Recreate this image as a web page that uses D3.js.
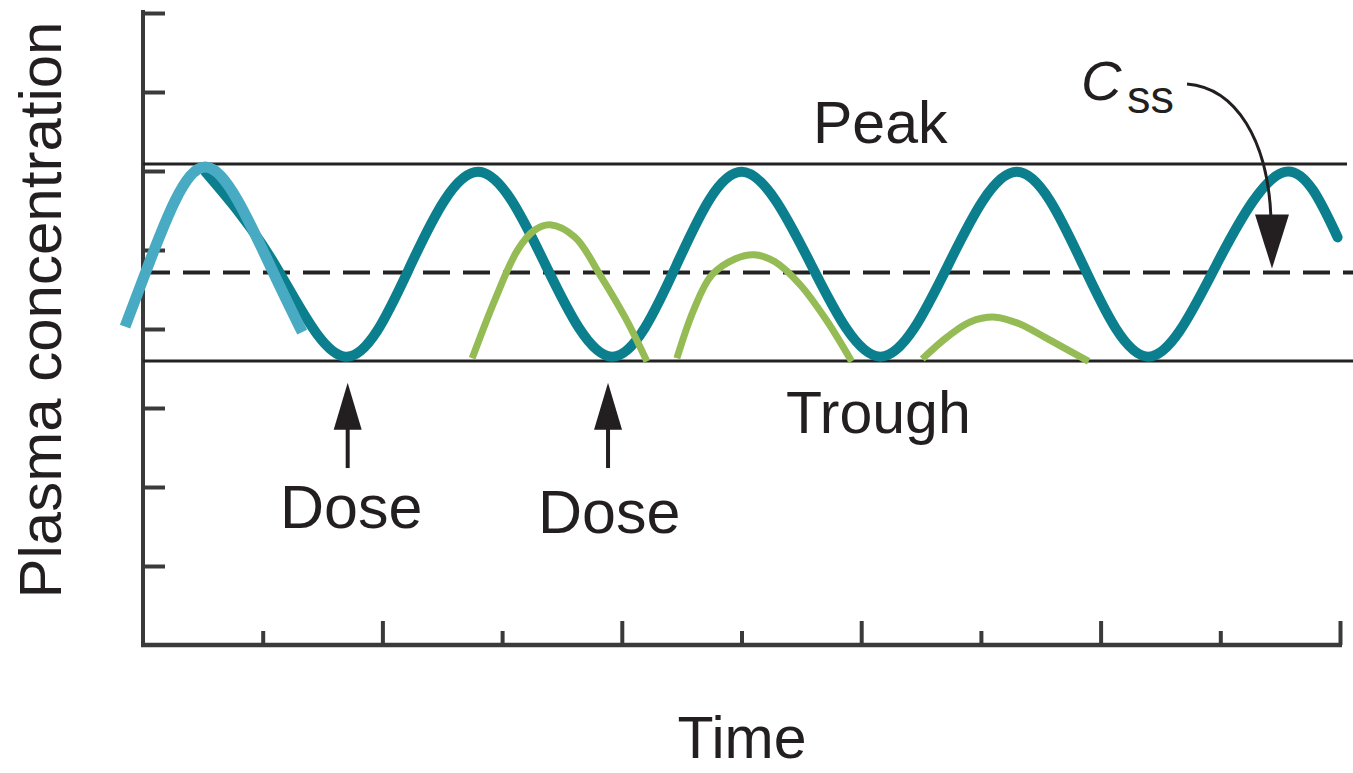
<!DOCTYPE html>
<html>
<head>
<meta charset="utf-8">
<script src="https://cdn.jsdelivr.net/npm/d3@7"></script>
<style>
  html, body { margin: 0; padding: 0; background: #fff; }
  svg { display: block; }
  text { font-family: "Liberation Sans", Arial, sans-serif; fill: #231f20; }
</style>
</head>
<body>
<svg id="chart" width="1353" height="773"></svg>
<script>
// ---------- data (time units = x ticks, concentration units = y ticks) ----------
const xTicksMajor = [2, 4, 6, 8, 10];
const xTicksMinor = [1, 3, 5, 7, 9];
const yTicks = [1, 2, 3, 4, 5, 6, 7, 8];

// steady-state oscillation (teal)
const tealTime = [0.52, 1.10, 1.69, 2.24, 2.80, 3.36, 3.92, 4.46, 5.00, 5.58, 6.16, 6.73, 7.30, 7.85, 8.40, 8.97, 9.54, 9.98];
const tealConc = [5.99, 4.82, 3.65, 4.82, 5.99, 4.82, 3.65, 4.82, 5.99, 4.82, 3.65, 4.82, 5.99, 4.82, 3.65, 4.82, 5.99, 5.16];

// first-dose overlay (light blue)
const blueTime = [-0.15, 0.02, 0.27, 0.52, 0.79, 1.09, 1.33];
const blueConc = [4.03, 4.71, 5.63, 6.05, 5.63, 4.71, 3.96];

// declining doses (green)
const green1Time = [2.75, 2.94, 3.13, 3.27, 3.40, 3.61, 3.82, 4.03, 4.21];
const green1Conc = [3.63, 4.37, 5.00, 5.25, 5.32, 5.16, 4.68, 4.14, 3.59];
const green2Time = [4.46, 4.60, 4.75, 4.95, 5.11, 5.28, 5.49, 5.71, 5.92];
const green2Conc = [3.63, 4.24, 4.68, 4.89, 4.94, 4.85, 4.56, 4.11, 3.59];
const green3Time = [6.51, 6.72, 6.91, 7.12, 7.33, 7.54, 7.90];
const green3Conc = [3.62, 3.90, 4.09, 4.15, 4.06, 3.89, 3.59];

// reference levels
const peakLevel = 6.09;
const troughLevel = 3.595;
const cssLevel = 4.715;

// dose arrows
const doseTimes = [1.71, 3.885];
const doseArrowTop = 3.32;
const doseArrowBottom = 2.24;

// ---------- drawing ----------
const svg = d3.select("#chart");
const x = d3.scaleLinear().domain([0, 10]).range([143, 1340]);
const y = d3.scaleLinear().domain([0, 8]).range([645, 13]);

const axisColor = "#3a3a3a";

// y axis (ticks pointing inward)
const gy = svg.append("g").attr("transform", `translate(${x(0)},0)`)
  .call(d3.axisLeft(y).tickValues(yTicks).tickSize(-22).tickSizeOuter(0).tickFormat(""));
gy.select(".domain").remove();
gy.selectAll(".tick line").attr("stroke", axisColor).attr("stroke-width", 4);
svg.append("line").attr("x1", x(0)).attr("x2", x(0)).attr("y1", 10).attr("y2", y(0) + 2)
  .attr("stroke", axisColor).attr("stroke-width", 4);

// x axis (tall and short ticks)
const gxMajor = svg.append("g").attr("transform", `translate(0,${y(0)})`)
  .call(d3.axisBottom(x).tickValues(xTicksMajor).tickSize(-24).tickSizeOuter(0).tickFormat(""));
gxMajor.select(".domain").remove();
gxMajor.selectAll(".tick line").attr("stroke", axisColor).attr("stroke-width", 4);
const gxMinor = svg.append("g").attr("transform", `translate(0,${y(0)})`)
  .call(d3.axisBottom(x).tickValues(xTicksMinor).tickSize(-14).tickSizeOuter(0).tickFormat(""));
gxMinor.select(".domain").remove();
gxMinor.selectAll(".tick line").attr("stroke", axisColor).attr("stroke-width", 4);
svg.append("line").attr("x1", x(0) - 2).attr("x2", x(10) + 2).attr("y1", y(0)).attr("y2", y(0))
  .attr("stroke", axisColor).attr("stroke-width", 4.5);

// reference lines
svg.append("line").attr("x1", x(0)).attr("x2", 1347).attr("y1", y(peakLevel)).attr("y2", y(peakLevel))
  .attr("stroke", "#222").attr("stroke-width", 3);
svg.append("line").attr("x1", x(0)).attr("x2", 1353).attr("y1", y(troughLevel)).attr("y2", y(troughLevel))
  .attr("stroke", "#222").attr("stroke-width", 3);
svg.append("line").attr("x1", x(0)).attr("x2", 1353).attr("y1", y(cssLevel)).attr("y2", y(cssLevel))
  .attr("stroke", "#222").attr("stroke-width", 4).attr("stroke-dasharray", "27,13");

// curves
const line = d3.line().x(d => x(d[0])).y(d => y(d[1])).curve(d3.curveNatural);
const smooth = d3.line().x(d => x(d[0])).y(d => y(d[1])).curve(d3.curveCatmullRom.alpha(0.5));
const zip = (a, b) => a.map((v, i) => [v, b[i]]);

svg.append("path").attr("d", line(zip(tealTime, tealConc)))
  .attr("fill", "none").attr("stroke", "#0b7f8d").attr("stroke-width", 10).attr("stroke-linecap", "round");
svg.append("path").attr("d", line(zip(blueTime, blueConc)))
  .attr("fill", "none").attr("stroke", "#48abc3").attr("stroke-width", 11).attr("stroke-linecap", "butt");
[[green1Time, green1Conc], [green2Time, green2Conc], [green3Time, green3Conc]].forEach(([t, c]) => {
  svg.append("path").attr("d", smooth(zip(t, c)))
    .attr("fill", "none").attr("stroke", "#95bb55").attr("stroke-width", 7).attr("stroke-linecap", "butt");
});

// dose arrows
doseTimes.forEach(t => {
  const cx = x(t), tip = y(doseArrowTop), bottom = y(doseArrowBottom);
  svg.append("line").attr("x1", cx).attr("x2", cx).attr("y1", tip + 40).attr("y2", bottom)
    .attr("stroke", "#231f20").attr("stroke-width", 4);
  svg.append("path").attr("d", `M${cx},${tip} L${cx + 14},${tip + 47} L${cx - 14},${tip + 47} Z`)
    .attr("fill", "#231f20");
});

// texts
svg.append("text").attr("x", 280).attr("y", 528).attr("font-size", 61).text("Dose");
svg.append("text").attr("x", 538).attr("y", 533).attr("font-size", 61).text("Dose");
svg.append("text").attr("x", 813).attr("y", 143).attr("font-size", 59).text("Peak");
svg.append("text").attr("x", 786).attr("y", 433).attr("font-size", 59).text("Trough");
svg.append("text").attr("x", 742).attr("y", 758).attr("font-size", 59).attr("text-anchor", "middle").text("Time");
svg.append("text").attr("transform", "translate(61,310) rotate(-90)").attr("font-size", 60)
  .attr("text-anchor", "middle").text("Plasma concentration");

// Css label and curved arrow
svg.append("text").attr("x", 1081).attr("y", 100).attr("font-size", 56).attr("font-style", "italic").text("C");
svg.append("text").attr("x", 1127).attr("y", 113).attr("font-size", 47).text("ss");
const tipY = y(cssLevel) - 4;
svg.append("path").attr("d", `M1187,84 C1236,88 1268,140 1271,${tipY - 50}`)
  .attr("fill", "none").attr("stroke", "#231f20").attr("stroke-width", 3);
svg.append("path").attr("d", `M1272,${tipY} L1289,${tipY - 54} L1255,${tipY - 54} Z`).attr("fill", "#231f20");
</script>
</body>
</html>
